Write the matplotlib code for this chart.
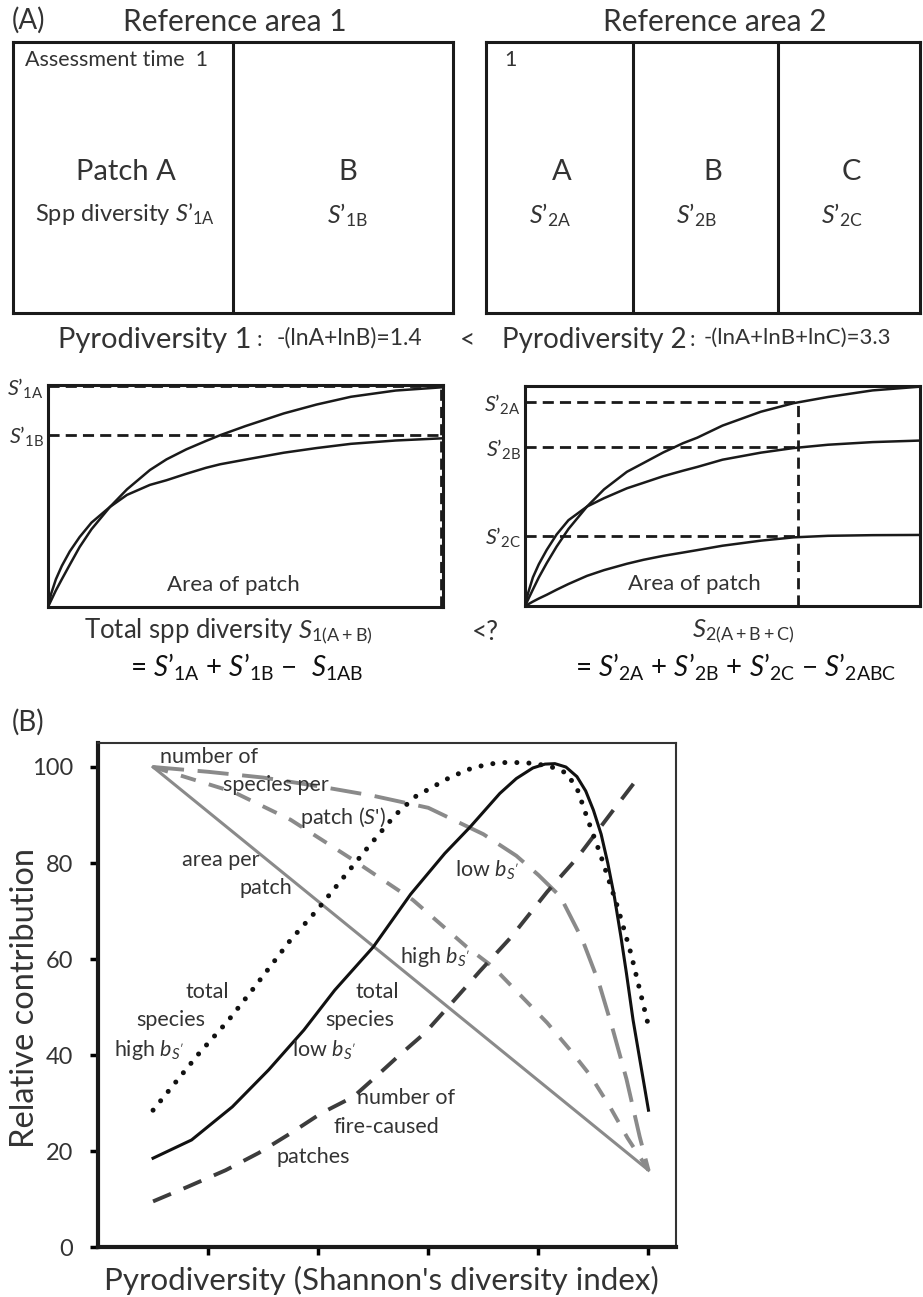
import matplotlib.pyplot as plt

plt.rcParams['font.family'] = ['Lato', 'DejaVu Sans']
plt.rcParams['mathtext.fontset'] = 'custom'
plt.rcParams['mathtext.rm'] = 'Lato'
plt.rcParams['mathtext.it'] = 'Lato:italic'
plt.rcParams['mathtext.bf'] = 'Lato:bold'

W, H = 923, 1297
TXT = '#333333'
GREY = '#8a8a8a'
DARK = '#3c3c3c'

# panel A, reference area 1: species-area curves (fraction of axis)
area1_x = [0, 0.008, 0.02, 0.035, 0.055, 0.08, 0.11, 0.157, 0.2, 0.258,
           0.3, 0.35, 0.4, 0.436, 0.5, 0.597, 0.68, 0.767, 0.88, 1.0]
sp1A = [0, 0.03, 0.075, 0.125, 0.19, 0.27, 0.35, 0.451, 0.53, 0.617,
        0.665, 0.71, 0.748, 0.774, 0.815, 0.872, 0.912, 0.947, 0.975, 0.99]
sp1B = [0, 0.06, 0.125, 0.185, 0.25, 0.315, 0.38, 0.451, 0.505, 0.55,
        0.571, 0.60, 0.627, 0.643, 0.664, 0.695, 0.716, 0.735, 0.75, 0.76]
s1_levels = [0.995, 0.777]          # S'1A, S'1B
s1_labels = [r"$S$’$_{\rm 1A}$", r"$S$’$_{\rm 1B}$"]

# panel A, reference area 2
area2_x = area1_x
sp2A = [0, 0.03, 0.075, 0.13, 0.195, 0.27, 0.35, 0.452, 0.53, 0.61,
        0.65, 0.698, 0.74, 0.765, 0.82, 0.883, 0.922, 0.95, 0.98, 0.997]
sp2B = [0, 0.06, 0.13, 0.19, 0.255, 0.325, 0.39, 0.452, 0.49, 0.535,
        0.56, 0.59, 0.615, 0.632, 0.665, 0.697, 0.718, 0.733, 0.745, 0.752]
sp2C = [0, 0.008, 0.02, 0.034, 0.051, 0.074, 0.1, 0.137, 0.163, 0.192,
        0.21, 0.228, 0.243, 0.254, 0.274, 0.297, 0.312, 0.319, 0.322, 0.323]
s2_levels = [0.926, 0.721, 0.32]    # S'2A, S'2B, S'2C
s2_labels = [r"$S$’$_{\rm 2A}$", r"$S$’$_{\rm 2B}$", r"$S$’$_{\rm 2C}$"]
s2_cut = 0.69

# panel B
pyro_ticks = [1, 2, 3, 4, 5]
contrib_ticks = [0, 20, 40, 60, 80, 100]

area_x = [0.5, 5.0]
area_y = [100, 16]

sp_high_x = [0.5, 1.23, 1.75, 2.32, 2.86, 3.35, 3.59, 4.08, 4.29, 4.47, 4.65, 4.81, 5.0]
sp_high_y = [100, 94.8, 89, 80.6, 72.3, 62.5, 58.3, 46.7, 41, 35.8, 29.2, 22.7, 16]

sp_low_x = [0.5, 1.0, 1.5, 2.0, 2.5, 3.0, 3.5, 3.8, 4.0, 4.2, 4.4, 4.55, 4.68, 4.8, 4.92, 5.0]
sp_low_y = [100, 99, 97.8, 96, 94, 91.5, 86, 81.5, 77.5, 73, 64, 55, 45, 35, 23, 16]

fire_x = [0.5, 0.81, 1.16, 1.46, 1.75, 2.03, 2.32, 2.52, 2.72, 2.97, 3.2, 3.47, 3.75, 4.08, 4.35, 4.68, 4.93]
fire_y = [9.5, 12.5, 16, 19.6, 23.7, 27.9, 31.3, 35.4, 39.6, 44.6, 50.5, 57.5, 64.5, 74, 81, 91, 98.5]

tot_low_x = [0.5, 0.85, 1.22, 1.55, 1.87, 2.15, 2.5, 2.84, 3.15, 3.38, 3.65, 3.8, 3.95,
             4.06, 4.15, 4.25, 4.35, 4.43, 4.5, 4.57, 4.63, 4.69, 4.75, 4.8, 4.86, 5.0]
tot_low_y = [18.5, 22.3, 29.2, 36.9, 45.2, 53.5, 62.5, 73.5, 82, 87.5, 94.5, 97.6, 99.8,
             100.6, 100.7, 100, 98, 95, 91, 86, 80, 73, 64.6, 57, 47.3, 28.5]

tot_high_x = [0.5, 0.69, 0.92, 1.18, 1.41, 1.75, 1.99, 2.23, 2.46, 2.7, 2.88, 3.17, 3.35,
              3.54, 3.73, 3.93, 4.1, 4.26, 4.36, 4.44, 4.56, 4.72, 4.84, 4.99]
tot_high_y = [28.5, 33.9, 40.4, 47.1, 53.8, 64, 70.2, 77, 83.5, 90, 93.8, 97.5, 99.4,
              100.6, 101, 100.8, 100.2, 98.7, 95, 89.6, 82, 70.8, 61.2, 47]


def px_axes(fig, l, t, r, b):
    return fig.add_axes([l / W, 1 - b / H, (r - l) / W, (b - t) / H])


def ftext(fig, x, y, s, **kw):
    kw.setdefault('color', TXT)
    kw.setdefault('va', 'center')
    fig.text(x / W, 1 - y / H, s, **kw)


def frame(ax, lw=2.2):
    ax.set_xlim(0, 1)
    ax.set_ylim(0, 1)
    ax.set_xticks([])
    ax.set_yticks([])
    for sp in ax.spines.values():
        sp.set_linewidth(lw)
        sp.set_color('#1a1a1a')


fig = plt.figure(figsize=(W / 100, H / 100), dpi=100)

# ---------- panel A: the two reference areas
box1 = px_axes(fig, 13, 42, 453, 313)
frame(box1)
box1.axvline(0.5, color='#1a1a1a', lw=2.2)

box2 = px_axes(fig, 486, 42, 920, 313)
frame(box2)
for xv in [0.339, 0.673]:
    box2.axvline(xv, color='#1a1a1a', lw=2.2)

ftext(fig, 12, 20, "(A)", fontsize=20, ha='left')
ftext(fig, 235, 22, "Reference area 1", fontsize=21.5, ha='center')
ftext(fig, 715, 22, "Reference area 2", fontsize=21.5, ha='center')

ftext(fig, 25, 60, "Assessment time  1", fontsize=15.5, ha='left')
ftext(fig, 126, 172, "Patch A", fontsize=21, ha='center')
ftext(fig, 125, 214, r"Spp diversity $S$’$_{\rm 1A}$", fontsize=17, ha='center')
ftext(fig, 348, 172, "B", fontsize=21, ha='center')
ftext(fig, 347, 215, r"$S$’$_{\rm 1B}$", fontsize=18, ha='center')

ftext(fig, 510, 60, "1", fontsize=15.5, ha='center')
for cx, sx, lab, s in [(562, 550, "A", s2_labels[0]), (713, 696, "B", s2_labels[1]),
                       (851, 842, "C", s2_labels[2])]:
    ftext(fig, cx, 172, lab, fontsize=21, ha='center')
    ftext(fig, sx, 215, s, fontsize=18, ha='center')

ftext(fig, 58, 340, "Pyrodiversity 1", fontsize=21, ha='left')
ftext(fig, 257, 340, ":", fontsize=16, ha='left')
ftext(fig, 277, 338, "-(lnA+lnB)=1.4", fontsize=16.5, ha='left')
ftext(fig, 468, 340, "<", fontsize=19, ha='center')
ftext(fig, 502, 340, "Pyrodiversity 2", fontsize=20, ha='left')
ftext(fig, 690, 340, ":", fontsize=16, ha='left')
ftext(fig, 704, 338, "-(lnA+lnB+lnC)=3.3", fontsize=16, ha='left')

# ---------- panel A: species-area curves
ax1 = px_axes(fig, 48, 385, 443, 607)
frame(ax1)
ax1.plot(area1_x, sp1A, color='#1a1a1a', lw=1.8)
ax1.plot(area1_x, sp1B, color='#1a1a1a', lw=1.8)
ax1.axhline(s1_levels[0], color='#1a1a1a', lw=2, dashes=(4, 2.2))
ax1.axhline(s1_levels[1], color='#1a1a1a', lw=2, dashes=(4, 2.2))
ax1.axvline(0.995, color='#1a1a1a', lw=2, dashes=(4, 2.2))
ax1.set_yticks(s1_levels)
ax1.set_yticklabels(s1_labels, fontsize=15.5, color=TXT)
ax1.tick_params(axis='y', length=0, pad=3)
ax1.text(0.47, 0.1, "Area of patch", transform=ax1.transAxes, ha='center', va='center',
         fontsize=16, color=TXT)

ax2 = px_axes(fig, 525, 386, 920, 606)
frame(ax2)
for ys in [sp2A, sp2B, sp2C]:
    ax2.plot(area2_x, ys, color='#1a1a1a', lw=1.8)
for lev in s2_levels:
    ax2.plot([0, s2_cut], [lev, lev], color='#1a1a1a', lw=2, dashes=(4, 2.2))
ax2.plot([s2_cut, s2_cut], [0, s2_levels[0]], color='#1a1a1a', lw=2, dashes=(4, 2.2))
ax2.set_yticks(s2_levels)
ax2.set_yticklabels(s2_labels, fontsize=15.5, color=TXT)
ax2.tick_params(axis='y', length=0, pad=3)
ax2.text(0.43, 0.1, "Area of patch", transform=ax2.transAxes, ha='center', va='center',
         fontsize=16, color=TXT)

ftext(fig, 228, 632, r"Total spp diversity $S_{\rm 1(A + B)}$", fontsize=18.5, ha='center')
ftext(fig, 485, 632, "<?", fontsize=19, ha='center')
ftext(fig, 743, 632, r"$S_{\rm 2(A + B + C)}$", fontsize=18.5, ha='center')
ftext(fig, 130, 667, r"= $S$’$_{\rm 1A}$ + $S$’$_{\rm 1B}$ −  $S_{\rm 1AB}$",
      fontsize=20, ha='left', color='#111111')
ftext(fig, 575, 667, r"= $S$’$_{\rm 2A}$ + $S$’$_{\rm 2B}$ + $S$’$_{\rm 2C}$ − $S$’$_{\rm 2ABC}$",
      fontsize=20, ha='left', color='#111111')

# ---------- panel B
ftext(fig, 12, 722, "(B)", fontsize=20, ha='left')
axb = px_axes(fig, 98, 743, 676, 1247)
axb.plot(area_x, area_y, color=GREY, lw=2.2)
axb.plot(sp_high_x, sp_high_y, color=GREY, lw=2.8, dashes=(4, 3.5))
axb.plot(sp_low_x, sp_low_y, color=GREY, lw=2.8, dashes=(8, 3.5))
axb.plot(fire_x, fire_y, color=DARK, lw=2.8, dashes=(5, 3.5))
axb.plot(tot_low_x, tot_low_y, color='#111111', lw=2.2)
axb.plot(tot_high_x, tot_high_y, color='#111111', lw=3.6, dashes=(0.01, 2.4),
         dash_capstyle='round')

axb.set_xlim(0, 5.25)
axb.set_ylim(0, 105)
axb.set_xticks(pyro_ticks)
axb.set_xticklabels([])
axb.set_yticks(contrib_ticks)
axb.tick_params(axis='both', direction='out', length=6, width=2.5, labelsize=17,
                labelcolor=TXT)
axb.tick_params(axis='y', pad=12)
for side in ['left', 'bottom']:
    axb.spines[side].set_linewidth(3)
    axb.spines[side].set_color('#1a1a1a')
for side in ['top', 'right']:
    axb.spines[side].set_linewidth(1.5)
    axb.spines[side].set_color('#333333')
axb.text(0.49, -0.066, "Pyrodiversity (Shannon's diversity index)", fontsize=22.5,
         color=TXT, ha='center', va='center', transform=axb.transAxes)
axb.text(-0.127, 0.494, "Relative contribution", fontsize=23.5, rotation=90,
         color=TXT, ha='center', va='center', transform=axb.transAxes)

lab = dict(fontsize=15.5, ha='left')
ftext(fig, 160, 757, "number of", **lab)
ftext(fig, 223, 785, "species per", **lab)
ftext(fig, 300, 817, r"patch ($S$')", **lab)
ftext(fig, 182, 860, "area per", **lab)
ftext(fig, 240, 888, "patch", **lab)
ftext(fig, 455, 870, r"low $b_{S'}$", **lab)
ftext(fig, 400, 957, r"high $b_{S'}$", **lab)
ftext(fig, 185, 992, "total", **lab)
ftext(fig, 136, 1020, "species", **lab)
ftext(fig, 114, 1050, r"high $b_{S'}$", **lab)
ftext(fig, 355, 992, "total", **lab)
ftext(fig, 325, 1020, "species", **lab)
ftext(fig, 292, 1050, r"low $b_{S'}$", **lab)
ftext(fig, 357, 1098, "number of", **lab)
ftext(fig, 333, 1127, "fire-caused", **lab)
ftext(fig, 277, 1157, "patches", **lab)

fig.savefig("out.png", dpi=100)
